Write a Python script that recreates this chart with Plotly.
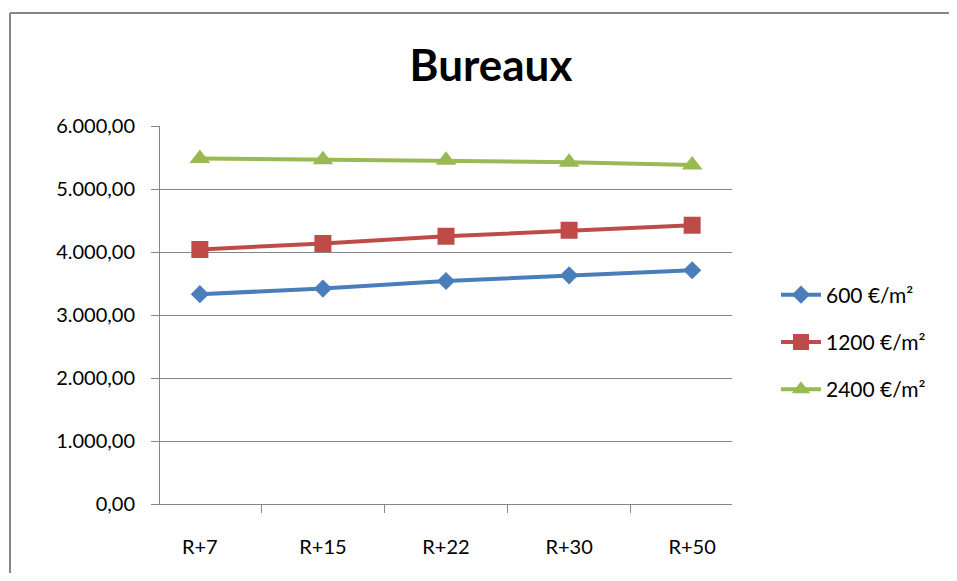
import plotly.graph_objects as go

# Data
categories = ["R+7", "R+15", "R+22", "R+30", "R+50"]
s600 = [3330, 3420, 3540, 3630, 3710]
s1200 = [4040, 4135, 4250, 4345, 4425]
s2400 = [5485, 5465, 5455, 5425, 5380]
series_names = ["600 €/m²", "1200 €/m²", "2400 €/m²"]

FONT = "Lato, 'Noto Sans', sans-serif"
GRID = "#868686"

# page body has an 8px margin all round, so keep the figure inside it
W, H = 941, 565
L, R, T, B = 152, 217, 118, 69
pw, ph = W - L - R, H - T - B

fig = go.Figure()

styles = [
    (s600, "#4A7EBB", "diamond", 14),
    (s1200, "#BE4B48", "square", 17),
    (s2400, "#98B954", "triangle-up", 18),
]
for name, (vals, color, sym, size) in zip(series_names, styles):
    fig.add_trace(go.Scatter(
        x=categories, y=vals, name=name, legendgroup=name,
        mode="lines+markers",
        line=dict(color=color, width=4),
        marker=dict(symbol=sym, size=size, color=color),
    ))

# outer chart border: only the top and left edges are visible in the frame
bx0, by1 = (2 - L) / pw, (H - B - 5) / ph
border = [
    dict(type="line", xref="paper", yref="paper", x0=bx0, x1=(W + 20 - L) / pw,
         y0=by1, y1=by1, line=dict(color=GRID, width=2)),
    dict(type="line", xref="paper", yref="paper", x0=bx0, x1=bx0,
         y0=-(B + 20) / ph, y1=by1, line=dict(color=GRID, width=2)),
]

fig.update_layout(
    width=W, height=H,
    margin=dict(l=L, r=R, t=T, b=B),
    paper_bgcolor="white", plot_bgcolor="white",
    font=dict(family=FONT, size=20, color="#000000"),
    separators=",.",
    title=dict(text="<b>Bureaux</b>", x=483 / W, xanchor="center",
               y=1 - 58 / H, yanchor="middle",
               font=dict(size=44, family=FONT)),
    showlegend=True,
    legend=dict(x=(768 - L) / pw, xanchor="left",
                y=(H - B - 334) / ph, yanchor="middle",
                traceorder="grouped", tracegroupgap=17,
                font=dict(size=21, family=FONT), itemwidth=40),
    shapes=border,
)

fig.update_xaxes(
    type="category", showgrid=False, showline=True, linecolor=GRID, linewidth=1,
    ticks="outside", tickson="boundaries", ticklen=8, tickcolor=GRID,
    ticklabelstandoff=25, tickfont=dict(size=20),
)
fig.update_yaxes(
    range=[0, 6000], dtick=1000, tickformat=",.2f",
    showgrid=True, gridcolor=GRID, gridwidth=1,
    showline=True, linecolor=GRID, linewidth=1,
    ticks="outside", ticklen=8, tickcolor=GRID,
    ticklabelstandoff=12, tickfont=dict(size=20), zeroline=False,
)

fig.write_html("out.html")
